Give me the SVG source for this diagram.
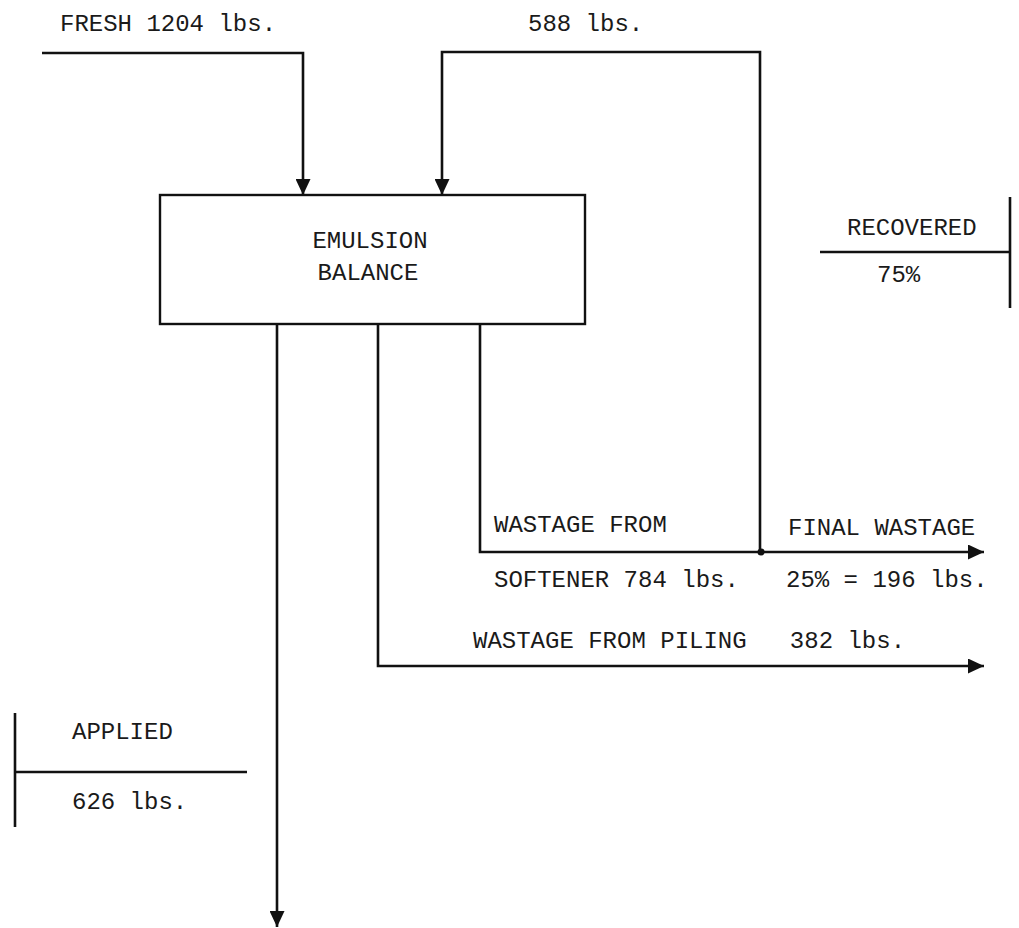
<svg xmlns="http://www.w3.org/2000/svg" width="1019" height="928" viewBox="0 0 1019 928">
<style>
text{font-family:"Liberation Mono","DejaVu Sans Mono",monospace;font-size:24px;fill:#1a1a1a}
.ln{fill:none;stroke:#111;stroke-width:2.6}
.box{fill:#fff;stroke:#111;stroke-width:2.4}
</style>
<defs>
<marker id="ah" viewBox="0 0 16 15" refX="16" refY="7.5" markerWidth="16" markerHeight="15" markerUnits="userSpaceOnUse" orient="auto">
<path d="M0,0 L16,7.5 L0,15 z" fill="#111"/>
</marker>
</defs>
<rect width="1019" height="928" fill="#fff"/>
<g id="connectors">
<path class="ln" d="M42,53 H303 V195" marker-end="url(#ah)"/>
<path class="ln" d="M760,552 V52 H442 V195" marker-end="url(#ah)"/>
<path class="ln" d="M480,324 V552 H984" marker-end="url(#ah)"/>
<path class="ln" d="M378,324 V666 H984" marker-end="url(#ah)"/>
<path class="ln" d="M277,324 V927" marker-end="url(#ah)"/>
<circle cx="761" cy="552" r="3.5" fill="#111"/>
</g>
<g id="emulsion-balance">
<rect class="box" x="160" y="195" width="425" height="129"/>
<text x="370" y="248" text-anchor="middle">EMULSION</text>
<text x="368" y="280" text-anchor="middle">BALANCE</text>
</g>
<g id="fresh-label"><text x="60" y="31">FRESH 1204 lbs.</text></g>
<g id="recycle-label"><text x="528" y="31">588 lbs.</text></g>
<g id="recovered">
<path class="ln" d="M1010,197 V308 M820,252 H1010"/>
<text x="847" y="235">RECOVERED</text>
<text x="877" y="282">75%</text>
</g>
<g id="softener-labels">
<text x="494" y="532">WASTAGE FROM</text>
<text x="494" y="587">SOFTENER 784 lbs.</text>
<text x="788" y="535">FINAL WASTAGE</text>
<text x="786" y="587">25% = 196 lbs.</text>
</g>
<g id="piling-label"><text x="473" y="648" xml:space="preserve">WASTAGE FROM PILING   382 lbs.</text></g>
<g id="applied">
<path class="ln" d="M15,713 V827 M15,772 H247"/>
<text x="72" y="739">APPLIED</text>
<text x="72" y="809">626 lbs.</text>
</g>
</svg>
